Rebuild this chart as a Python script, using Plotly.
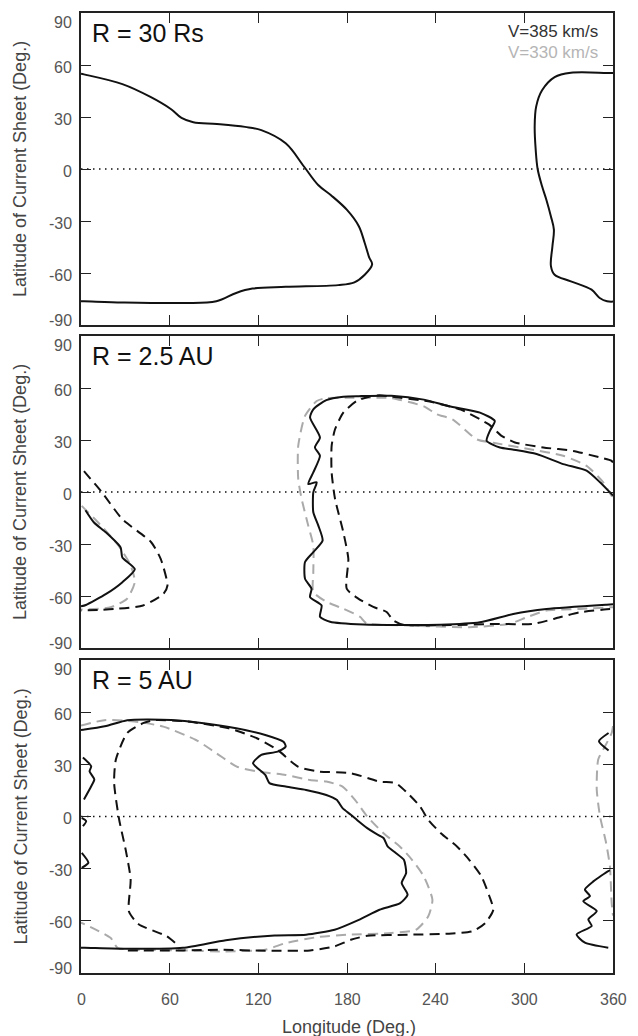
import plotly.graph_objects as go

# ---------------- data (longitude deg, latitude deg) ----------------
# Panel 1: R = 30 Rs  (V=385 km/s only)
p1_solid_a_lon = [0, 2, 28, 47, 61, 68, 76, 92, 111, 122, 138.5, 151, 160.5, 169, 180, 188, 192, 195, 197, 192, 185, 174, 138.5, 116, 105, 91.6, 69.5, 28, 2, 0]
p1_solid_a_lat = [55, 54.6, 49, 41.6, 34.5, 29.5, 27, 26, 24.3, 22.4, 14.8, 1.3, -9.2, -15, -23.6, -33, -42.7, -51, -55, -61, -65.4, -67, -68, -69, -71.5, -76.3, -77.3, -77, -76.3, -76.3]
p1_solid_b_lon = [360, 356, 331.5, 320.5, 312, 308, 307, 307.7, 309, 312, 315, 318, 320, 319, 318, 320.5, 331.5, 345.5, 351, 356, 360]
p1_solid_b_lat = [55.4, 55.4, 55.5, 53, 45.4, 36, 24.3, 11, 0, -10, -18, -27.4, -35, -44.7, -56, -61, -64.8, -69.6, -74.4, -76.3, -76.5]

# Panel 2: R = 2.5 AU
p2_solid_a_lon = [3, 8.8, 17, 26.8, 28, 36.4, 28, 17, 3.3, 0]
p2_solid_a_lat = [-10.5, -17.6, -23.4, -32, -37.8, -44.5, -52, -58.8, -65.2, -66]
p2_dash_a_lon = [2, 14, 28, 47.5, 54, 58.5, 55.7, 42, 22.6, 0]
p2_dash_a_lat = [12, 0, -15.7, -29, -38.7, -54, -58.8, -65.5, -67.5, -68.4]
p2_gray_a_lon = [0.5, 2.8, 11.6, 25.4, 33.7, 36.4, 31, 20, 0]
p2_gray_a_lat = [-8, -10, -17.6, -31, -42.5, -52, -61.7, -66.5, -67.8]

p2_solid_b_lon = [360, 357.9, 351.2, 342.1, 326.3, 308.3, 292, 283.5, 274.5, 276.7, 280, 270, 249, 232, 210, 188, 177.5, 166, 157.2, 155, 161.7, 158.3, 161.7, 157.2, 153.8, 159.5, 157.2, 157.2, 160.6, 163.5, 157.2, 151.6, 151.6, 156, 155, 162.8, 161.7, 168.5, 191, 243, 270, 292.5, 315, 355.7, 360]
p2_solid_b_lat = [-2, -0.2, 5.6, 12.3, 16.1, 21.9, 24.5, 25.7, 29.5, 35.3, 41, 45.8, 49.5, 53.3, 55.5, 55.3, 55, 53, 47.7, 43, 31.5, 25.7, 20.9, 11.3, 4.6, 5.6, -0.2, -11.7, -19.4, -28, -34.7, -40.4, -50, -55.8, -60.6, -65.4, -72, -74.9, -76.5, -76.6, -75.2, -70.4, -67.5, -65, -64.8]
p2_dash_b_lon = [360, 359, 351.2, 333, 312.8, 293.6, 284.6, 280, 276, 257, 235, 210, 202, 195, 186.5, 177.5, 171.9, 169.6, 169.6, 171.9, 177.5, 180.9, 179.8, 187.6, 197.8, 206.8, 211.3, 218, 250, 281, 306, 324, 337.6, 358, 360]
p2_dash_b_lat = [17, 18, 19.9, 23.7, 25.7, 28.6, 32.4, 36, 39, 47.5, 52.3, 55, 55.8, 55, 52.5, 45.8, 36.2, 26.6, 11.3, -4, -23.2, -38.5, -55.8, -61.5, -66.3, -69.2, -74, -76.6, -76.8, -76.1, -76.1, -72.3, -69.4, -67.5, -67.5]
p2_gray_b_lon = [360, 359, 353.4, 342.1, 326.3, 303.8, 279, 268, 251.6, 240.7, 232, 210, 202, 179.8, 166, 159.5, 151.6, 147, 147, 149.3, 153.8, 157.2, 157.2, 157.2, 166.2, 177.5, 188.8, 193.3, 221, 262.7, 290, 301.5, 315, 337.6, 359, 360]
p2_gray_b_lat = [-2.5, -2.1, 5.6, 15.1, 20.9, 24.7, 28.4, 30.3, 41.8, 44.9, 49.4, 54.2, 54.4, 54.4, 54.2, 52.5, 43.9, 26.6, 7.5, -4, -19.4, -30.9, -46.2, -57.7, -63.4, -67.3, -72, -75.8, -77, -78, -76, -72.3, -68.4, -67.5, -66.5, -66.5]

# Panel 3: R = 5 AU
p3_solid_a_lon = [0, 2.4, 17, 31.3, 61, 83, 105, 124.7, 137, 138.5, 133, 122, 116.4, 124.7, 127.5, 138.5, 152.3, 166, 173, 177, 182.6, 188, 193.7, 199, 204.7, 207.5, 213, 218.5, 220, 217, 221, 216, 202, 188, 171.6, 152.3, 131, 98, 69, 31.3, 2.4, 0]
p3_solid_a_lat = [49.8, 50, 52, 55.4, 55.5, 53.6, 50.7, 46.9, 43, 40.2, 37.3, 35.4, 30.6, 23.9, 19.2, 17.2, 15.3, 12.4, 9.6, 4.8, 1, -2.9, -6.7, -9.6, -12.4, -17.2, -21, -24.9, -32.6, -38.3, -45, -49.8, -53.6, -59.4, -65.1, -68, -68.4, -71.1, -75.5, -76.1, -75.5, -75.5]
p3_solid_b_lon = [1.3, 6.9, 5.8, 9, 6.9, 2]
p3_solid_b_lat = [33.9, 28.9, 26, 21.3, 17.4, 9.8]
p3_solid_c_lon = [0.5, 3.5, 1.3]
p3_solid_c_lat = [-0.8, -2.7, -5.6]
p3_solid_d_lon = [0.5, 5, 0.5]
p3_solid_d_lat = [-20.9, -26.6, -29.5]
p3_solid_e_lon = [357, 350.5, 357]
p3_solid_e_lat = [48, 43.3, 38]
p3_solid_f_lon = [358, 356.8, 346.7, 341, 344.4, 339.9, 349, 343.3, 345.6, 335.4, 341, 356.8]
p3_solid_f_lat = [-31, -31.4, -37.3, -42, -45.8, -48.7, -54.4, -59.2, -63, -67.8, -72.6, -75.5]
p3_dash_a_lon = [63.6, 58, 39, 32.4, 33.6, 30.2, 25.8, 22.4, 23.6, 31.3, 42.4, 50, 72, 100, 119, 133, 146.8, 160.5, 182.6, 202, 213, 221, 229.5, 235, 243.5, 254.4, 262.7, 271, 276.4, 279, 273.6, 265, 249, 221, 193.7, 182.6, 171.6, 155, 124.7, 94.4, 69.5, 28]
p3_dash_a_lat = [-72.6, -68.8, -62, -54.5, -36.2, -19, -1.7, 19.4, 32.8, 48, 53.8, 55.4, 54.6, 50.7, 45, 38.3, 28.7, 25.9, 24.9, 20.1, 19.2, 13.4, 5.7, -1.9, -9.6, -17.2, -24.9, -34.5, -46, -53.6, -61.3, -66, -67.4, -68, -68.6, -70.9, -74.7, -77, -77.2, -76.6, -77, -77]
p3_gray_a_lon = [0, 15.8, 36.4, 55.7, 77.8, 91.6, 105.4, 119, 138.5, 155, 166, 177, 185.4, 193.7, 204.7, 215.7, 224, 232, 237.8, 235, 226.8, 210, 180, 160.5, 138.5, 124.7, 97, 69.5, 36.4, 24.7, 20, 0]
p3_gray_a_lat = [52.3, 55.4, 54.6, 51.7, 44, 36.4, 28.7, 25.9, 23.9, 21, 20.1, 17.2, 9.6, 0, -9.6, -17.2, -24.9, -34.5, -47.9, -57.4, -65.1, -67, -68, -69.3, -72.8, -76.6, -77.6, -77, -76.6, -75.5, -69.8, -61]
p3_gray_b_lon = [360, 359.1, 354.6, 350, 349, 351.2, 355.3, 357.9, 359.1, 360]
p3_gray_b_lat = [52, 48, 40.4, 32.8, 15.5, 0.2, -15.1, -28.6, -49.6, -57]

panel_labels = ["R = 30 Rs", "R = 2.5 AU", "R = 5 AU"]
legend_labels = ["V=385 km/s", "V=330 km/s"]
x_ticks = [0, 60, 120, 180, 240, 300, 360]
y_ticks = [-90, -60, -30, 0, 30, 60, 90]

# ---------------- styles ----------------
BLACK = "#111111"
GRAY = "#aaaaaa"
FONT = "Liberation Sans, Arial, Helvetica, sans-serif"
solid = dict(color=BLACK, width=2)
dashed = dict(color=BLACK, width=2, dash="10px,6px")
graydash = dict(color=GRAY, width=2, dash="10px,6px")

panels = [
    [(p1_solid_a_lon, p1_solid_a_lat, solid), (p1_solid_b_lon, p1_solid_b_lat, solid)],
    [(p2_gray_a_lon, p2_gray_a_lat, graydash), (p2_gray_b_lon, p2_gray_b_lat, graydash),
     (p2_dash_a_lon, p2_dash_a_lat, dashed), (p2_dash_b_lon, p2_dash_b_lat, dashed),
     (p2_solid_a_lon, p2_solid_a_lat, solid), (p2_solid_b_lon, p2_solid_b_lat, solid)],
    [(p3_gray_a_lon, p3_gray_a_lat, graydash), (p3_gray_b_lon, p3_gray_b_lat, graydash),
     (p3_dash_a_lon, p3_dash_a_lat, dashed),
     (p3_solid_a_lon, p3_solid_a_lat, solid), (p3_solid_b_lon, p3_solid_b_lat, solid),
     (p3_solid_c_lon, p3_solid_c_lat, solid), (p3_solid_d_lon, p3_solid_d_lat, solid),
     (p3_solid_e_lon, p3_solid_e_lat, solid), (p3_solid_f_lon, p3_solid_f_lat, solid)],
]
smooth = [1.0, 0.6, 0.6]

W, H = 638, 1036
L, R, T, B = 81, 25, 13, 63
plot_h = H - T - B
panel_px = [(13, 325), (336, 648), (660, 973)]
def py(p):
    return (H - B - p) / plot_h

fig = go.Figure()
for i, traces in enumerate(panels):
    xa = "x" if i == 0 else f"x{i+1}"
    ya = "y" if i == 0 else f"y{i+1}"
    fig.add_trace(go.Scatter(x=[0, 360], y=[0, 0], mode="lines", xaxis=xa, yaxis=ya,
                             line=dict(color=BLACK, width=1.5, dash="1.5px,4.5px"),
                             hoverinfo="skip", showlegend=False))
    for lon, lat, ln in traces:
        fig.add_trace(go.Scatter(x=lon, y=lat, mode="lines", xaxis=xa, yaxis=ya,
                                 line=dict(ln, shape="spline", smoothing=smooth[i]),
                                 showlegend=False))

axis_common = dict(showline=True, mirror="allticks", linecolor="#222222", linewidth=1.5,
                   ticks="inside", ticklen=10, tickwidth=1.2, tickcolor="#222222",
                   showgrid=False, zeroline=False, showticklabels=False)

layout = dict(width=W, height=H, margin=dict(l=L, r=R, t=T, b=B),
              paper_bgcolor="white", plot_bgcolor="white", showlegend=False,
              font=dict(family=FONT))
annotations = []
tick_font = dict(family=FONT, size=16, color="#555555")
for i in range(3):
    sx = "" if i == 0 else str(i + 1)
    top, bot = panel_px[i]
    layout["xaxis" + sx] = dict(axis_common, range=[0, 360], tickvals=x_ticks,
                                anchor="y" + sx, domain=[0, 1])
    layout["yaxis" + sx] = dict(axis_common, range=[-90, 90], tickvals=y_ticks,
                                anchor="x" + sx, domain=[py(bot), py(top)])
    for v in y_ticks:
        shift = -9 if v == 90 else (5 if v == -90 else -2)
        annotations.append(dict(text=str(v), xref="x" + sx, yref="y" + sx, x=0, y=v,
                                xanchor="right", yanchor="middle", xshift=-7, yshift=shift,
                                showarrow=False, font=tick_font))
    annotations.append(dict(text=panel_labels[i], xref="paper", yref="paper",
                            x=(90 - L) / (W - L - R), y=py(top + 20), xanchor="left", yanchor="middle",
                            showarrow=False, font=dict(family=FONT, size=25, color=BLACK)))
    annotations.append(dict(text="Latitude of Current Sheet (Deg.)", xref="paper", yref="paper",
                            x=(20 - L) / (W - L - R), y=py((top + bot) / 2), xanchor="center",
                            yanchor="middle", textangle=-90, showarrow=False,
                            font=dict(family=FONT, size=18, color="#444444")))

for v in x_ticks:
    annotations.append(dict(text=str(v), xref="x3", yref="paper", x=v, y=0,
                            xanchor="center", yanchor="middle", yshift=-26,
                            showarrow=False, font=tick_font))
annotations.append(dict(text="Longitude (Deg.)", xref="paper", yref="paper",
                        x=(349 - L) / (W - L - R), y=0, xanchor="center", yanchor="middle",
                        yshift=-54, showarrow=False,
                        font=dict(family=FONT, size=18, color="#444444")))
annotations.append(dict(text=legend_labels[0], xref="paper", yref="paper",
                        x=(600 - L) / (W - L - R), y=py(31), xanchor="right", yanchor="middle",
                        showarrow=False, font=dict(family=FONT, size=17, color="#333333")))
annotations.append(dict(text=legend_labels[1], xref="paper", yref="paper",
                        x=(600 - L) / (W - L - R), y=py(53), xanchor="right", yanchor="middle",
                        showarrow=False, font=dict(family=FONT, size=17, color="#b5b5b5")))
layout["annotations"] = annotations
fig.update_layout(**layout)
fig.write_html("out.html")
